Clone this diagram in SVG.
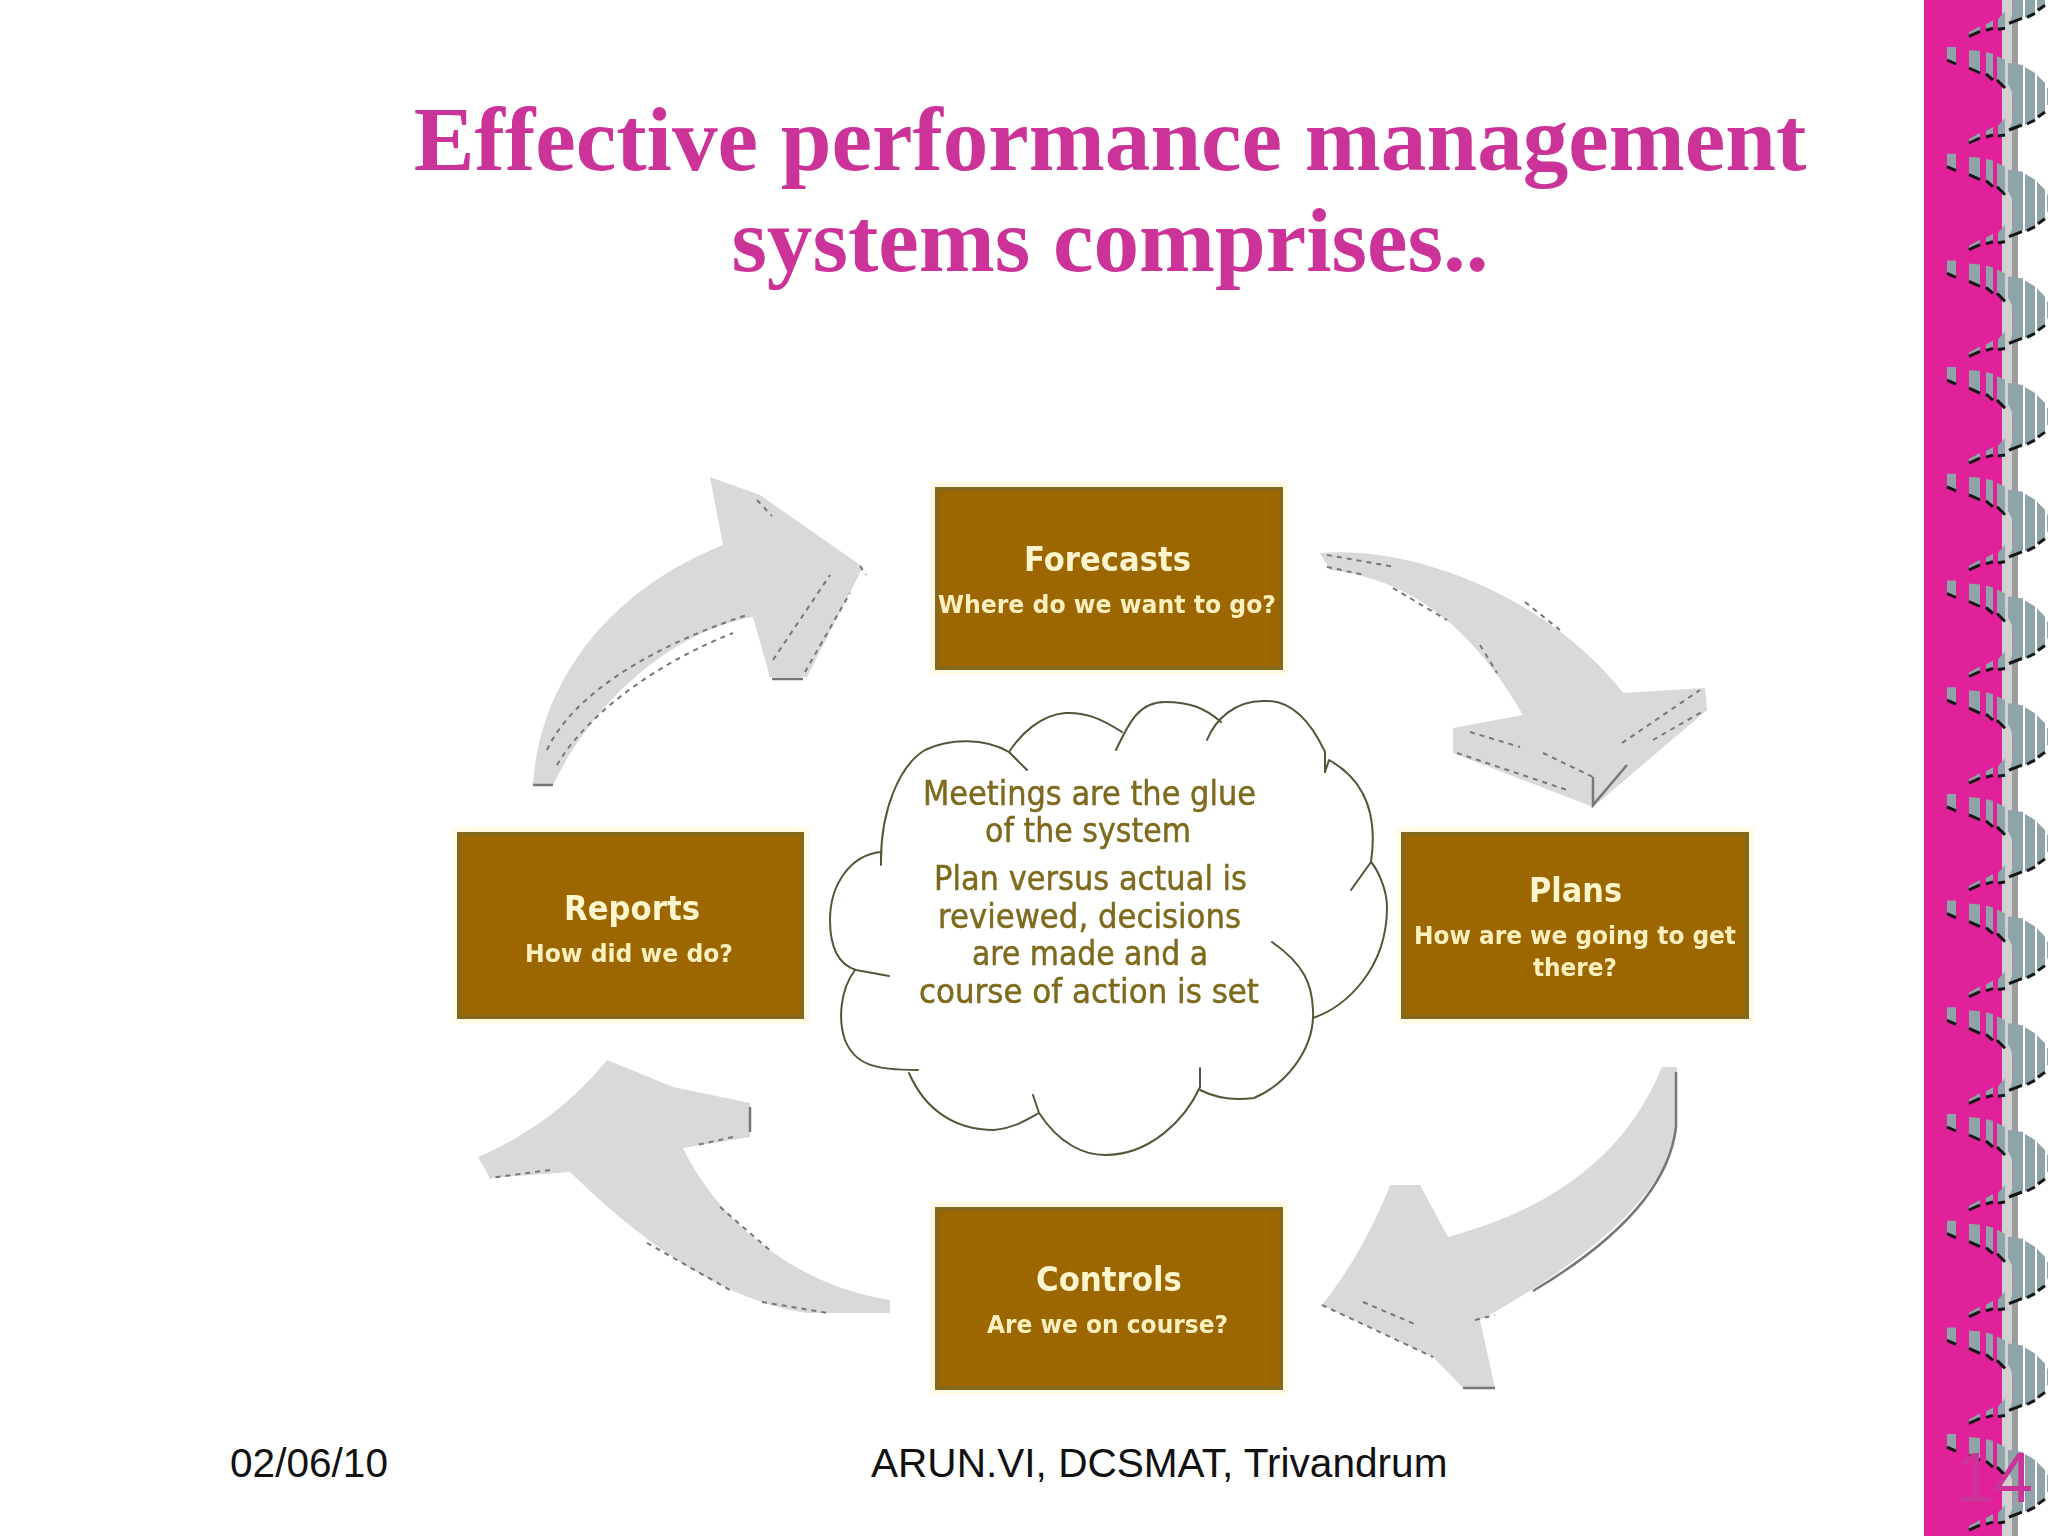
<svg xmlns="http://www.w3.org/2000/svg" xmlns:xlink="http://www.w3.org/1999/xlink" width="2048" height="1536" viewBox="0 0 2048 1536">
<style>
.title{font-family:"Liberation Serif",serif;font-weight:700;font-size:91.2px;fill:#cc3399;text-anchor:middle}
.foot{font-family:"Liberation Sans",sans-serif;font-size:40.6px;fill:#111}
.glow{fill:#fffbe6}
.box{fill:#9c6700;stroke:#84691c;stroke-width:4}
.h{font-family:"DejaVu Sans",sans-serif;font-size:33px;font-weight:700;fill:#fff6d0}
.s{font-family:"DejaVu Sans",sans-serif;font-size:24px;font-weight:700;fill:#fff0c0}
.c{font-family:"DejaVu Sans",sans-serif;font-size:33px;fill:#7d6a1c;stroke:#7d6a1c;stroke-width:.5}
.cloud{fill:none;stroke:#55553a;stroke-width:2;stroke-linejoin:round;stroke-linecap:round}
.arrow{fill:#d9d9db;stroke:none}
.dash{fill:none;stroke:#777;stroke-width:2;stroke-dasharray:5 5}
.solid{fill:none;stroke:#777;stroke-width:2.5}
.b{fill:#8fa4a8}
.k{fill:none;stroke:#151515;stroke-width:3}
</style>
<defs>
<filter id="soft" x="-5%" y="-5%" width="110%" height="110%"><feGaussianBlur stdDeviation="0.6"/></filter>
<g id="tile">
<path class="b" d="M1947 47h9v17l-9-4z"/><path class="k" d="M1947 60l9 4"/>
<path class="b" d="M1969 50l11 1v22l-11-5z"/><path class="k" d="M1969 68l11 5"/>
<path class="b" d="M1986 52l7 2v26l-7-6z"/><path class="k" d="M1986 74l7 6"/>
<path class="b" d="M1997 56l8 4v28l-8-8z"/><path class="k" d="M1997 80l8 8"/>
<path class="b" d="M2008 63L2023 65V124L2009 130Q2016 115 2014 100Q2012 90 2008 84Z"/><path class="k" d="M2009 130l13-5"/>
<path class="b" d="M2025 67L2035 73V119L2025 125Z"/><path class="k" d="M2027 124l8-4"/>
<path class="b" d="M2037 75L2045 83V111L2037 118Z"/><path class="k" d="M2038 117l7-5"/>
<path class="b" d="M2047 88h1v17h-1z"/>
<path class="b" d="M1998 126l7-8v17l-7 1z"/><path class="k" d="M1998 136l7-1"/>
<path class="b" d="M1986 131l7-4v8l-7 2z"/><path class="k" d="M1986 137l7-2"/>
<path class="b" d="M1969 139l11-6v5l-11 5z"/><path class="k" d="M1969 143l11-5"/>
</g>
</defs>
<rect width="2048" height="1536" fill="#ffffff"/>

<g id="sidebar">
<rect x="1924" width="78" height="1536" fill="#e0219a"/>
<rect x="2002" width="10" height="1536" fill="#d0d0d0"/>
<rect x="2012" width="6" height="1536" fill="#9c9c9c"/>
<g filter="url(#soft)">
<use xlink:href="#tile" href="#tile" y="-106.7"/>
<use xlink:href="#tile" href="#tile" y="0"/>
<use xlink:href="#tile" href="#tile" y="106.7"/>
<use xlink:href="#tile" href="#tile" y="213.4"/>
<use xlink:href="#tile" href="#tile" y="320.1"/>
<use xlink:href="#tile" href="#tile" y="426.8"/>
<use xlink:href="#tile" href="#tile" y="533.5"/>
<use xlink:href="#tile" href="#tile" y="640.2"/>
<use xlink:href="#tile" href="#tile" y="746.9"/>
<use xlink:href="#tile" href="#tile" y="853.6"/>
<use xlink:href="#tile" href="#tile" y="960.3"/>
<use xlink:href="#tile" href="#tile" y="1067"/>
<use xlink:href="#tile" href="#tile" y="1173.7"/>
<use xlink:href="#tile" href="#tile" y="1280.4"/>
<use xlink:href="#tile" href="#tile" y="1387.1"/>
<use xlink:href="#tile" href="#tile" y="1493.8"/>
</g>
</g>

<g id="title-text">
<text class="title" x="1110" y="170">Effective performance management</text>
<text class="title" x="1110" y="271">systems comprises..</text>
</g>

<g id="connectors" filter="url(#soft)">
<g id="arrow-reports-forecasts">
<path class="arrow" d="M533 785C540 680 610 590 723 545L710 477L760 495L863 567L807 677H770L753 617C680 630 600 690 553 785Z"/>
<path class="dash" d="M557 765C580 725 640 670 733 633"/>
<path class="dash" d="M547 750C570 700 640 650 747 615"/>
<path class="dash" d="M773 660L830 575"/><path class="dash" d="M805 672L850 593"/>
<path class="solid" d="M772 679H803M533 785H553"/><path class="dash" d="M757 500L772 516M860 566L866 575"/>
</g>
<g id="arrow-forecasts-plans">
<path class="arrow" d="M1320 553C1430 545 1560 610 1623 693L1705 688L1707 710L1593 807L1453 753V728L1523 715C1480 640 1420 580 1330 570Z"/>
<path class="dash" d="M1327 555L1395 567M1327 567L1365 575M1393 588L1447 620M1480 645L1497 673M1525 602L1560 630"/>
<path class="dash" d="M1470 732L1520 747M1543 753L1593 777M1457 753L1567 790"/>
<path class="solid" d="M1593 777V805L1627 765"/>
<path class="dash" d="M1622 743L1700 690M1653 740L1705 710"/>
</g>
<g id="arrow-plans-controls">
<path class="arrow" d="M1662 1067H1677V1127C1670 1190 1590 1260 1480 1320L1495 1388H1463L1433 1357L1322 1305C1350 1270 1375 1225 1390 1185H1420L1448 1237C1530 1215 1620 1170 1662 1067Z"/>
<path class="solid" d="M1676 1072V1127C1669 1190 1610 1245 1533 1291"/>
<path class="dash" d="M1363 1302L1417 1325M1322 1305L1433 1357M1475 1320L1495 1315"/>
<path class="solid" d="M1463 1388H1495"/>
</g>
<g id="arrow-controls-reports">
<path class="arrow" d="M607 1060L673 1087L750 1103V1137L683 1148C715 1215 790 1285 890 1300V1313H807C720 1300 640 1240 570 1172L490 1178L478 1157C530 1135 575 1100 607 1060Z"/>
<path class="solid" d="M750 1107V1132"/>
<path class="dash" d="M733 1137L697 1145M550 1170L490 1178M720 1207L773 1253M647 1243L730 1290M762 1302L828 1313"/>
</g>
</g>

<g id="node-cloud">
<path class="cloud" d="M1027 770L1009 752C985 738 950 738 925 750C900 765 880 810 881 865"/>
<path class="cloud" d="M881 852C850 855 830 885 830 920C830 950 840 965 856 970L889 976"/>
<path class="cloud" d="M855 970C840 990 838 1020 845 1040C855 1065 875 1070 918 1070"/>
<path class="cloud" d="M909 1073C925 1110 955 1130 994 1130C1015 1128 1030 1118 1039 1113L1033 1095"/>
<path class="cloud" d="M1039 1113C1060 1145 1085 1155 1105 1155C1150 1155 1185 1120 1200 1087V1068"/>
<path class="cloud" d="M1200 1090C1220 1100 1240 1100 1254 1098C1285 1085 1315 1050 1313 1010C1312 985 1305 965 1272 942"/>
<path class="cloud" d="M1313 1018C1345 1007 1387 970 1387 907C1387 890 1378 870 1371 862L1351 890"/>
<path class="cloud" d="M1371 862C1378 815 1365 780 1329 760L1325 772"/>
<path class="cloud" d="M1325 772V752C1310 720 1290 700 1265 701C1235 700 1215 720 1207 740"/>
<path class="cloud" d="M1221 722C1205 708 1190 702 1165 702C1140 702 1130 720 1116 750"/>
<path class="cloud" d="M1122 732C1100 718 1085 712 1065 713C1040 715 1020 735 1009 752"/>
<g filter="url(#soft)">
<text class="c" x="923" y="805" textLength="333" lengthAdjust="spacingAndGlyphs">Meetings are the glue</text>
<text class="c" x="985" y="842" textLength="206" lengthAdjust="spacingAndGlyphs">of the system</text>
<text class="c" x="934" y="890" textLength="313" lengthAdjust="spacingAndGlyphs">Plan versus actual is</text>
<text class="c" x="938" y="928" textLength="303" lengthAdjust="spacingAndGlyphs">reviewed, decisions</text>
<text class="c" x="972" y="965" textLength="236" lengthAdjust="spacingAndGlyphs">are made and a</text>
<text class="c" x="919" y="1003" textLength="340" lengthAdjust="spacingAndGlyphs">course of action is set</text>
</g>
</g>

<g id="node-forecasts">
<rect class="glow" x="930" y="482" width="358" height="193"/>
<rect class="box" x="937" y="489" width="344" height="179"/>
<g filter="url(#soft)">
<text class="h" x="1024" y="571" textLength="167" lengthAdjust="spacingAndGlyphs">Forecasts</text>
<text class="s" x="938" y="613" textLength="338" lengthAdjust="spacingAndGlyphs">Where do we want to go?</text>
</g>
</g>
<g id="node-plans">
<rect class="glow" x="1396" y="827" width="358" height="197"/>
<rect class="box" x="1403" y="834" width="344" height="183"/>
<g filter="url(#soft)">
<text class="h" x="1529" y="902" textLength="93" lengthAdjust="spacingAndGlyphs">Plans</text>
<text class="s" x="1414" y="944" textLength="322" lengthAdjust="spacingAndGlyphs">How are we going to get</text>
<text class="s" x="1533" y="976" textLength="84" lengthAdjust="spacingAndGlyphs">there?</text>
</g>
</g>
<g id="node-controls">
<rect class="glow" x="930" y="1202" width="358" height="193"/>
<rect class="box" x="937" y="1209" width="344" height="179"/>
<g filter="url(#soft)">
<text class="h" x="1036" y="1291" textLength="146" lengthAdjust="spacingAndGlyphs">Controls</text>
<text class="s" x="987" y="1333" textLength="241" lengthAdjust="spacingAndGlyphs">Are we on course?</text>
</g>
</g>
<g id="node-reports">
<rect class="glow" x="452" y="827" width="357" height="197"/>
<rect class="box" x="459" y="834" width="343" height="183"/>
<g filter="url(#soft)">
<text class="h" x="564" y="920" textLength="136" lengthAdjust="spacingAndGlyphs">Reports</text>
<text class="s" x="525" y="962" textLength="208" lengthAdjust="spacingAndGlyphs">How did we do?</text>
</g>
</g>

<g id="footer">
<text class="foot" x="230" y="1477">02/06/10</text>
<text class="foot" x="871" y="1477">ARUN.VI, DCSMAT, Trivandrum</text>
<text x="1955" y="1502" font-family="Liberation Sans, sans-serif" font-size="70" fill="#cc3399">14</text>
</g>
</svg>
